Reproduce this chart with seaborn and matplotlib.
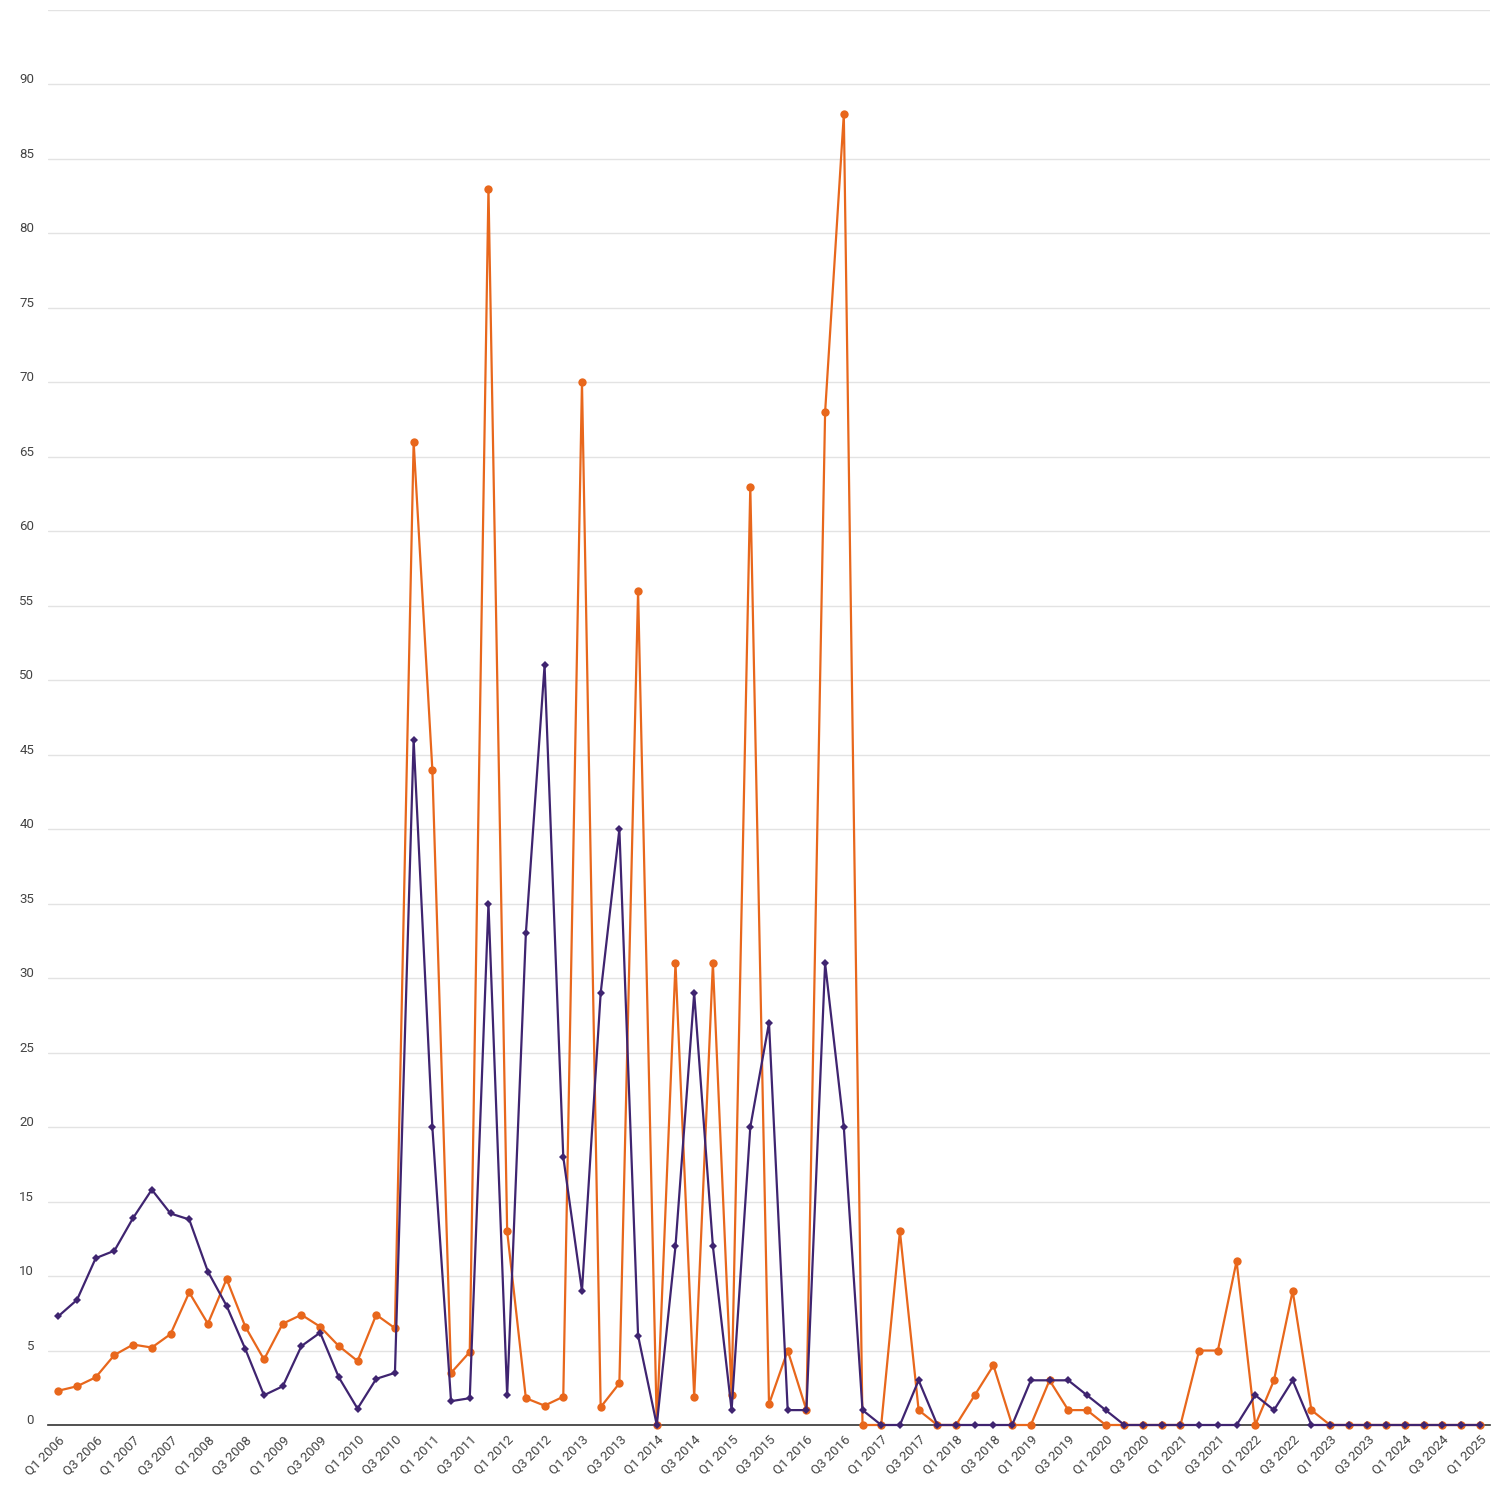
import numpy as np
import pandas as pd
import matplotlib
matplotlib.use("Agg")
import matplotlib.pyplot as plt
import seaborn as sns
from matplotlib.transforms import ScaledTranslation

# quarters Q1 2006 .. Q1 2025
quarters = [f"Q{q} {y}" for y in range(2006, 2026) for q in range(1, 5)][:77]

# purple series (diamonds)
purple_vals = [7.3, 8.4, 11.2, 11.7, 13.9, 15.8, 14.2, 13.8, 10.3, 8.0,
               5.1, 2.0, 2.6, 5.3, 6.2, 3.2, 1.1, 3.1, 3.5, 46,
               20, 1.6, 1.8, 35, 2, 33, 51, 18, 9, 29,
               40, 6, 0, 12, 29, 12, 1, 20, 27, 1,
               1, 31, 20, 1, 0, 0, 3, 0, 0, 0,
               0, 0, 3, 3, 3, 2, 1, 0, 0, 0,
               0, 0, 0, 0, 2, 1, 3, 0, 0, 0,
               0, 0, 0, 0, 0, 0, 0]

# orange series (circles)
orange_vals = [2.3, 2.6, 3.2, 4.7, 5.4, 5.2, 6.1, 8.9, 6.8, 9.8,
               6.6, 4.4, 6.8, 7.4, 6.6, 5.3, 4.3, 7.4, 6.5, 66,
               44, 3.5, 4.9, 83, 13, 1.8, 1.3, 1.9, 70, 1.2,
               2.8, 56, 0, 31, 1.9, 31, 2, 63, 1.4, 5,
               1, 68, 88, 0, 0, 13, 1, 0, 0, 2,
               4, 0, 0, 3, 1, 1, 0, 0, 0, 0,
               0, 5, 5, 11, 0, 3, 9, 1, 0, 0,
               0, 0, 0, 0, 0, 0, 0]

orange_color = "#E8671C"
purple_color = "#3F2470"

sns.set_theme(style="white")
plt.rcParams['font.family'] = ['Roboto', 'DejaVu Sans']

fig = plt.figure(figsize=(15, 15), dpi=100)
ax = fig.add_axes([48 / 1500, 1 - 1425 / 1500, (1490 - 48) / 1500, (1425 - 10) / 1500])

idx = np.arange(len(quarters))
df_o = pd.DataFrame({"i": idx, "v": orange_vals})
df_p = pd.DataFrame({"i": idx, "v": purple_vals})

sns.lineplot(data=df_o, x="i", y="v", ax=ax, color=orange_color, lw=1.6,
             marker="o", markersize=6, markeredgewidth=0, zorder=3, clip_on=False)
sns.lineplot(data=df_p, x="i", y="v", ax=ax, color=purple_color, lw=1.6,
             marker="D", markersize=4, markeredgewidth=0, zorder=4, clip_on=False)

ax.set_xlim(-0.55, len(quarters) - 1 + 0.55)
ax.set_ylim(0, 95)
yt = np.arange(0, 96, 5)
ax.set_yticks(yt)
ax.set_yticklabels([str(v) if v <= 90 else "" for v in yt])
ax.yaxis.grid(True, color="#E3E3E3", lw=1)
ax.set_axisbelow(True)

ax.set_xticks(idx[::2])
ax.set_xticklabels(quarters[::2], rotation=45, ha="right", rotation_mode="anchor")

for s in ["top", "right", "left"]:
    ax.spines[s].set_visible(False)
ax.spines["bottom"].set_color("#333333")
ax.spines["bottom"].set_linewidth(1.2)
ax.spines["bottom"].set_zorder(2)

ax.tick_params(axis="y", length=0, pad=10, labelsize=9.5, labelcolor="#444444")
ax.tick_params(axis="x", length=0, pad=6, labelsize=9.5, labelcolor="#444444")
for lbl in ax.get_yticklabels():
    lbl.set_transform(lbl.get_transform() + ScaledTranslation(0, 6 / 100, fig.dpi_scale_trans))

ax.set_xlabel("")
ax.set_ylabel("")

fig.savefig("out.png", dpi=100)
